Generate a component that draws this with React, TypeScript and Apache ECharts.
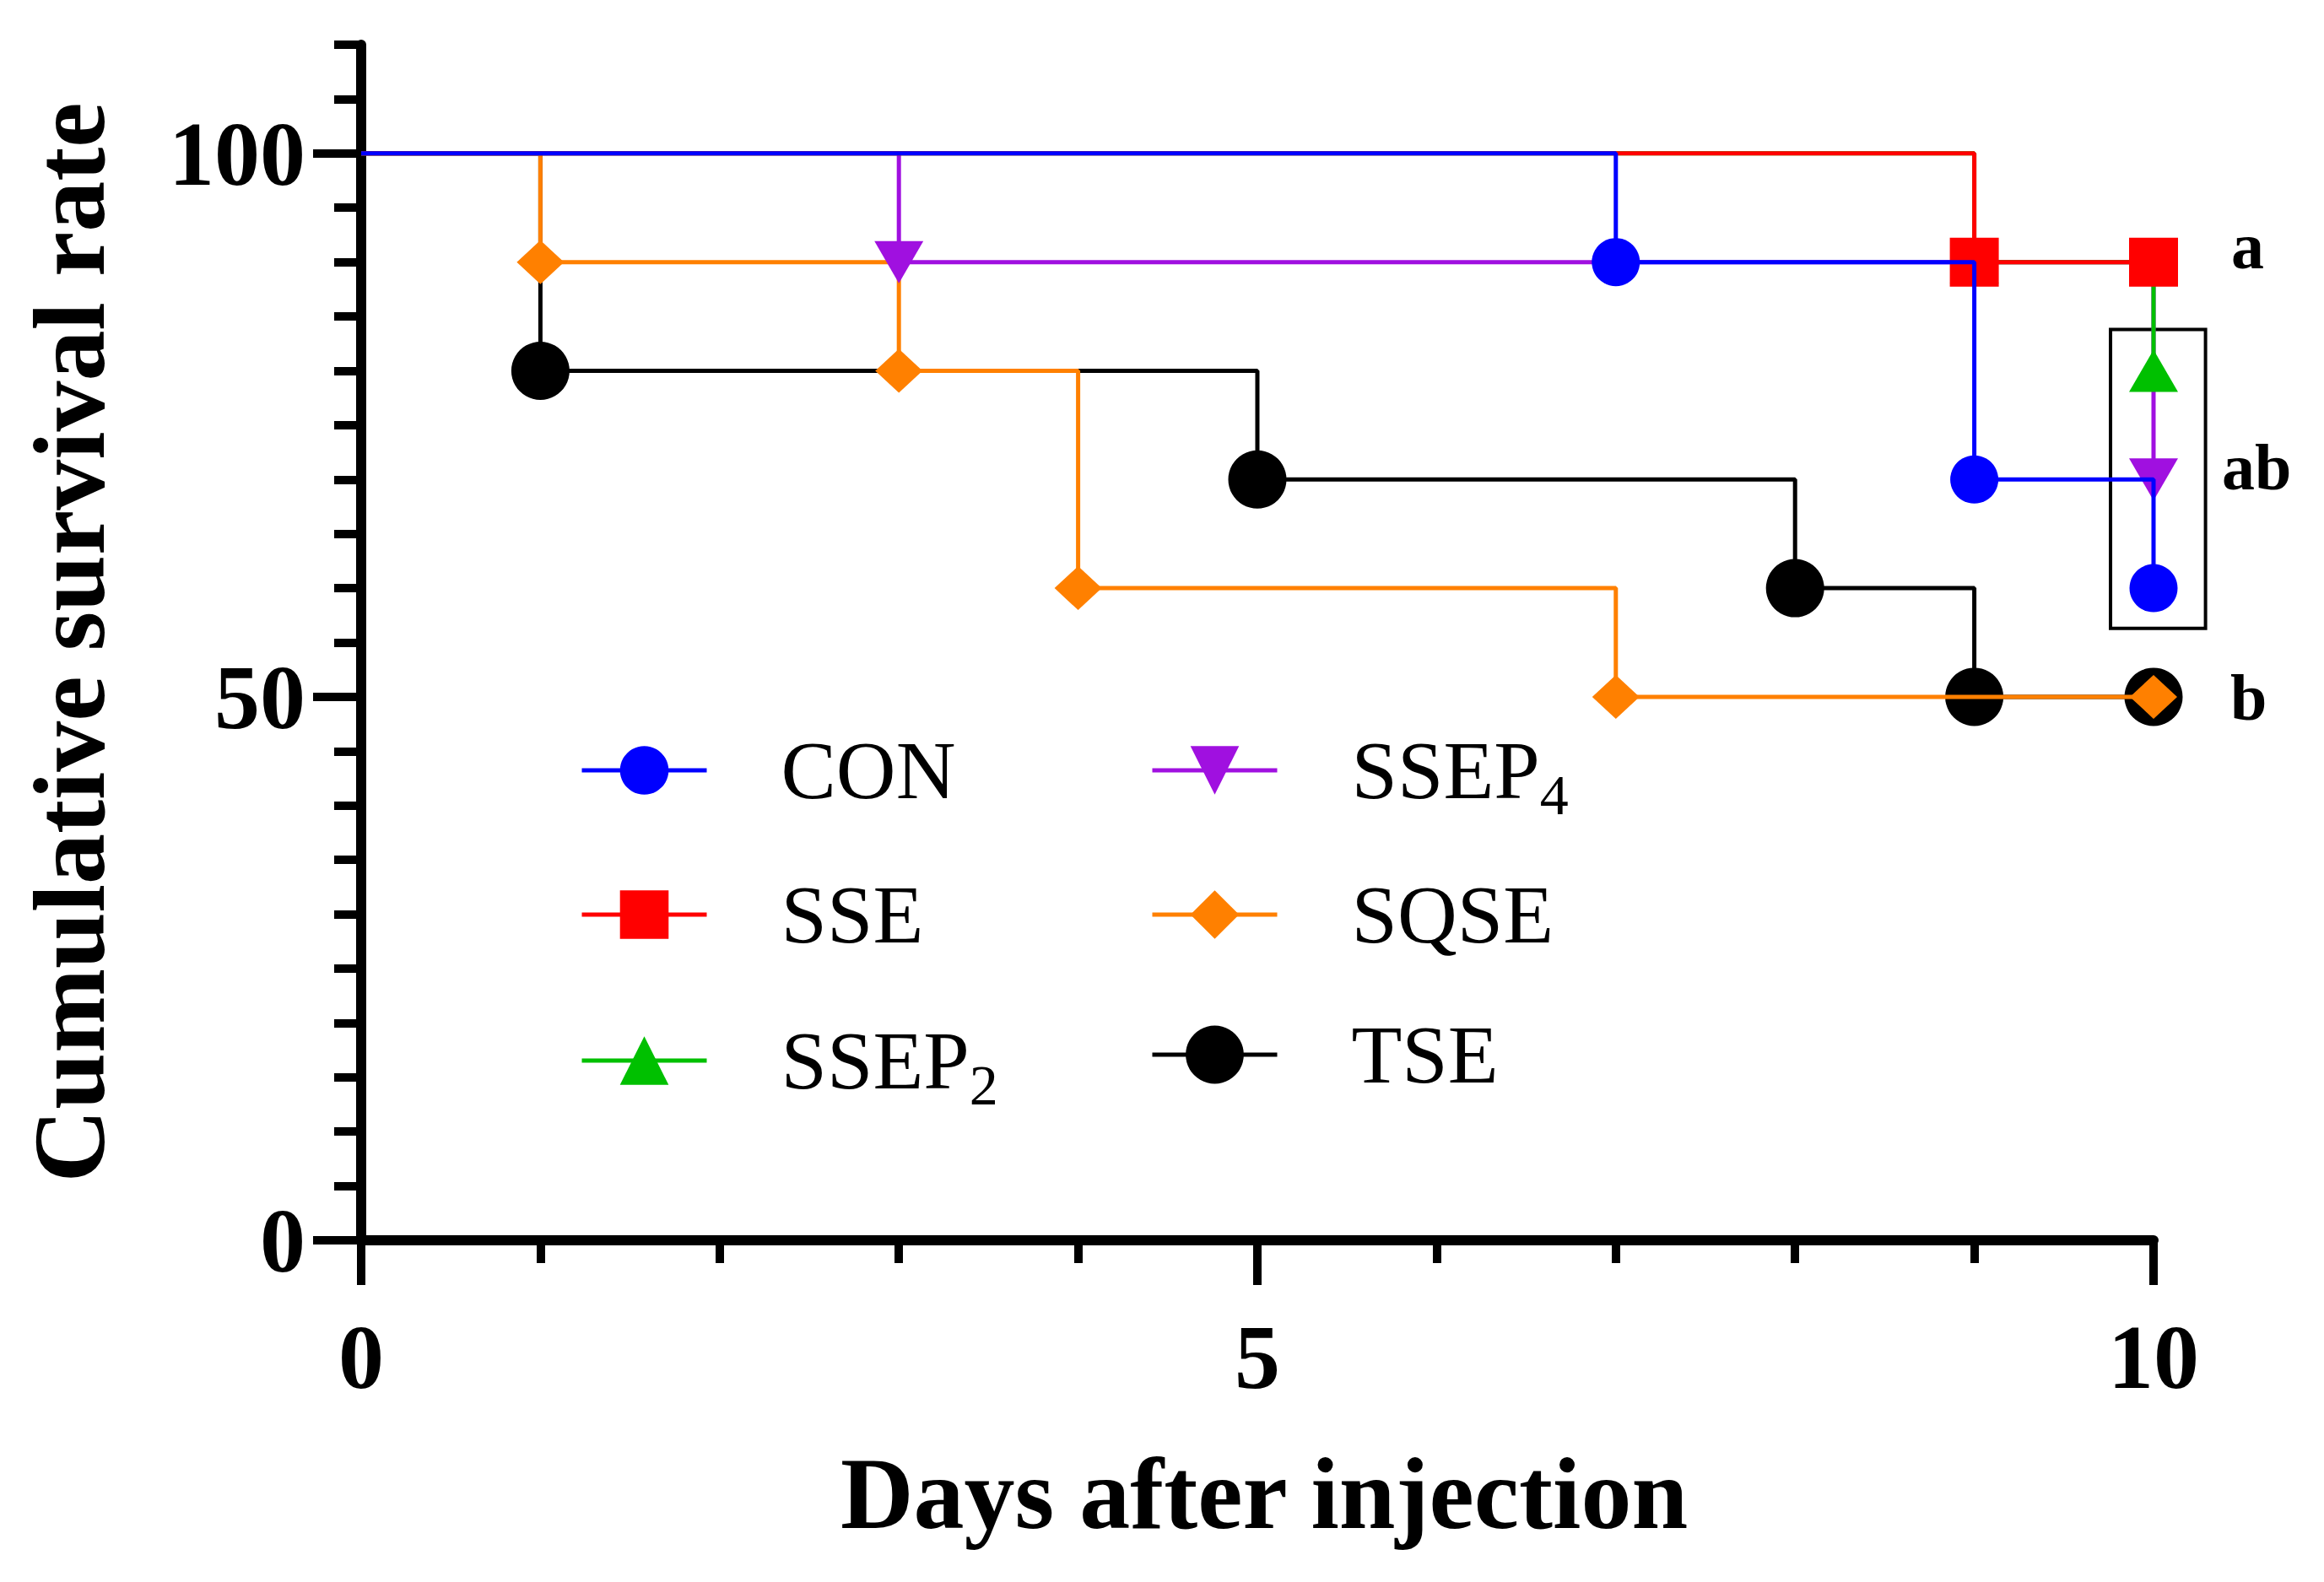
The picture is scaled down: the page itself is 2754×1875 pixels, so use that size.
import React, { useEffect, useRef } from 'react';
import * as echarts from 'echarts';

const FONT = '"Liberation Serif", "Times New Roman", serif';
const W = 2754;
const H = 1875;

// ---- data ----
const conDays = [0, 7, 9, 10];
const conRates = [100, 90, 70, 60];
const sseDays = [0, 9, 10];
const sseRates = [100, 90, 90];
const ssep2Days = [0, 9, 10];
const ssep2Rates = [100, 90, 80];
const ssep4Days = [0, 3, 10];
const ssep4Rates = [100, 90, 70];
const sqseDays = [0, 1, 3, 4, 7, 10];
const sqseRates = [100, 90, 80, 60, 50, 50];
const tseDays = [0, 1, 5, 8, 9, 10];
const tseRates = [100, 80, 70, 60, 50, 50];

const xMin = 0;
const xMax = 10;
const yMin = 0;
const yMax = 110;
const yMajorMax = 100;

const boxDays = [9.76, 10.29];
const boxRates = [83.8, 56.3];

const sigLetters = ['a', 'ab', 'b'];

// ---- helpers ----
function km(days: number[], rates: number[]) {
  return days.map((d, i) => (i === 0 ? { value: [d, rates[i]], symbol: 'none' } : [d, rates[i]]));
}

const seriesDefs = [
  { name: 'TSE', days: tseDays, rates: tseRates, color: '#000000', symbol: 'circle', size: 69, rotate: 0 },
  { name: 'SQSE', days: sqseDays, rates: sqseRates, color: '#FF8000', symbol: 'diamond', size: [56, 52], rotate: 0 },
  { name: 'SSEP4', days: ssep4Days, rates: ssep4Rates, color: '#A010E0', symbol: 'triangle', size: [58, 50], rotate: 180 },
  { name: 'SSEP2', days: ssep2Days, rates: ssep2Rates, color: '#00C000', symbol: 'triangle', size: [58, 50], rotate: 0 },
  { name: 'SSE', days: sseDays, rates: sseRates, color: '#FF0000', symbol: 'rect', size: 58, rotate: 0 },
  { name: 'CON', days: conDays, rates: conRates, color: '#0000FF', symbol: 'circle', size: 57, rotate: 0 },
];

const legendItems = [
  { name: 'CON', x: 687, cy: 900, ih: 72 },
  { name: 'SSE', x: 687, cy: 1071, ih: 72 },
  { name: 'SSEP2', x: 687, cy: 1244, ih: 72 },
  { name: 'SSEP4', x: 1363, cy: 900, ih: 72 },
  { name: 'SQSE', x: 1363, cy: 1071, ih: 72 },
  { name: 'TSE', x: 1363, cy: 1244, ih: 86 },
];

const gridMain = { left: 428, right: 202, top: 53, bottom: 405 };
const gridMajor = { left: 428, right: 202, top: 182, bottom: 405 };

const letterPos = [
  { x: 2644, y: 291 },
  { x: 2633, y: 553 },
  { x: 2643, y: 826 },
];

function letterGraphics() {
  return sigLetters.map((t, i) => ({
    id: 'letter' + i,
    type: 'text',
    left: letterPos[i].x,
    top: letterPos[i].y - 39,
    silent: true,
    style: {
      text: t,
      fontFamily: FONT,
      fontSize: 78,
      fontWeight: 'bold',
      fill: '#000',
      lineHeight: 78,
    },
  }));
}

function buildOption() {
  const series: any[] = seriesDefs.map((s, i) => ({
    type: 'line',
    name: s.name,
    data: km(s.days, s.rates),
    step: 'end',
    symbol: s.symbol,
    symbolSize: s.size,
    symbolRotate: s.rotate,
    showSymbol: true,
    showAllSymbol: true,
    clip: false,
    z: 2 + i,
    xAxisIndex: 0,
    yAxisIndex: 0,
    lineStyle: { color: s.color, width: 5 },
    itemStyle: { color: s.color },
    emphasis: { disabled: true },
    silent: true,
  }));

  const legends = legendItems.map((it) => ({
    data: [it.name],
    left: it.x,
    top: it.cy - it.ih / 2,
    orient: 'vertical',
    itemWidth: 148,
    itemHeight: it.ih,
    padding: 0,
    selectedMode: false,
    lineStyle: { width: 5 },
    formatter: (name: string) =>
      name === 'SSEP2' ? '{n|SSEP}{s|2}' : name === 'SSEP4' ? '{n|SSEP}{s|4}' : name,
    textStyle: {
      fontFamily: FONT,
      fontSize: 98,
      color: '#000',
      lineHeight: 72,
      padding: [0, 0, 0, 83],
      rich: {
        n: { fontFamily: FONT, fontSize: 98, lineHeight: 72, color: '#000' },
        s: { fontFamily: FONT, fontSize: 68, lineHeight: 14, height: 14, verticalAlign: 'bottom', color: '#000' },
      },
    },
  }));

  return {
    animation: false,
    backgroundColor: '#fff',
    grid: [gridMain, gridMajor],
    legend: legends,
    xAxis: [
      {
        type: 'value',
        gridIndex: 0,
        min: xMin,
        max: xMax,
        interval: 1,
        position: 'bottom',
        name: 'Days after injection',
        nameLocation: 'middle',
        nameGap: 240,
        nameTextStyle: { fontFamily: FONT, fontSize: 120, fontWeight: 'bold', color: '#000', lineHeight: 120, padding: [0, 0, 0, 16] },
        axisLine: { show: true, lineStyle: { color: '#000', width: 12 } },
        axisTick: { show: true, length: 27, lineStyle: { color: '#000', width: 10 } },
        axisLabel: { show: false },
        splitLine: { show: false },
      },
      {
        type: 'value',
        gridIndex: 1,
        min: xMin,
        max: xMax,
        interval: 5,
        position: 'bottom',
        axisLine: { show: false },
        axisTick: { show: true, length: 53, lineStyle: { color: '#000', width: 10 } },
        axisLabel: { show: true, margin: 84, fontFamily: FONT, fontSize: 108, fontWeight: 'bold', color: '#000', lineHeight: 108 },
        splitLine: { show: false },
      },
    ],
    yAxis: [
      {
        type: 'value',
        gridIndex: 0,
        min: yMin,
        max: yMax,
        interval: 5,
        position: 'left',
        name: 'Cumulative survival rate',
        nameLocation: 'middle',
        nameGap: 286,
        nameTextStyle: { fontFamily: FONT, fontSize: 120, fontWeight: 'bold', color: '#000', lineHeight: 120 },
        axisLine: { show: true, lineStyle: { color: '#000', width: 12 } },
        axisTick: { show: true, length: 32, lineStyle: { color: '#000', width: 10 } },
        axisLabel: { show: false },
        splitLine: { show: false },
      },
      {
        type: 'value',
        gridIndex: 1,
        min: yMin,
        max: yMajorMax,
        interval: 50,
        position: 'left',
        axisLine: { show: false },
        axisTick: { show: true, length: 57, lineStyle: { color: '#000', width: 10 } },
        axisLabel: { show: true, margin: 66, fontFamily: FONT, fontSize: 108, fontWeight: 'bold', color: '#000', lineHeight: 108 },
        splitLine: { show: false },
      },
    ],
    graphic: letterGraphics(),
    series,
  };
}

export default function App() {
  const ref = useRef<HTMLDivElement>(null);
  useEffect(() => {
    document.body.style.margin = '0';
    const chart = echarts.init(ref.current!, null, { renderer: 'svg' });
    chart.setOption(buildOption() as any);
    const p1 = chart.convertToPixel({ gridIndex: 0 }, [boxDays[0], boxRates[0]]) as number[];
    const p2 = chart.convertToPixel({ gridIndex: 0 }, [boxDays[1], boxRates[1]]) as number[];
    if (p1 && p2) {
      chart.setOption({
        graphic: [
          ...letterGraphics(),
          {
            id: 'box',
            type: 'rect',
            silent: true,
            z: 1,
            shape: {
              x: Math.min(p1[0], p2[0]),
              y: Math.min(p1[1], p2[1]),
              width: Math.abs(p2[0] - p1[0]),
              height: Math.abs(p2[1] - p1[1]),
            },
            style: { fill: 'none', stroke: '#000', lineWidth: 4 },
          },
        ],
      } as any);
    }
    return () => chart.dispose();
  }, []);
  return <div ref={ref} style={{ width: W, height: H }} />;
}
